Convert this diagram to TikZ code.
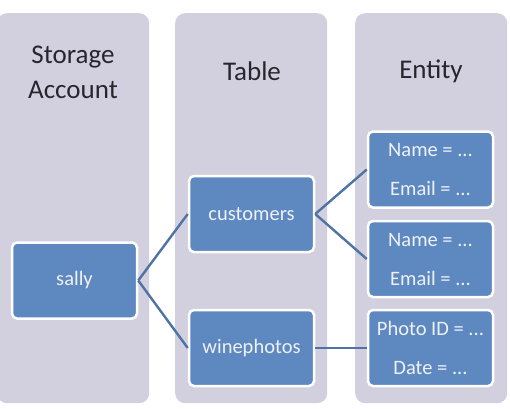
\documentclass[tikz,border=0pt]{standalone}
\usepackage{fontspec}
\setmainfont{Carlito}
\definecolor{colbg}{HTML}{D2D0DF}
\definecolor{boxblue}{HTML}{5E89C0}
\definecolor{linkblue}{HTML}{4F74A4}
\definecolor{titlecol}{HTML}{26262C}
\definecolor{boxtext}{HTML}{EEF1F7}
\tikzset{
  colbox/.style={fill=colbg, rounded corners=10pt, draw=none, minimum width=152pt, minimum height=390pt, inner sep=0pt},
  coltitle/.style={text=titlecol, font=\fontsize{27}{35}\selectfont, align=center, inner sep=0pt},
  itembox/.style={fill=boxblue, draw=white, line width=2.5pt, rounded corners=5pt, minimum width=125pt, minimum height=76pt, inner sep=0pt, text=boxtext, font=\fontsize{20.5}{39}\selectfont, align=center},
  link/.style={draw=linkblue, line width=2.4pt}
}
\begin{document}
\begin{tikzpicture}[x=1pt,y=-1pt]
\useasboundingbox (0,0) rectangle (510,408);
\fill[white] (0,0) rectangle (510,408);
% columns
\node[colbox, anchor=north west] (c1) at (-3,13) {};
\node[colbox, anchor=north west] (c2) at (175,13) {};
\node[colbox, anchor=north west] (c3) at (355,13) {};
% titles
\node[coltitle] (t1) at (73,72) {Storage\\Account};
\node[coltitle] (t2) at (252,71) {Table};
\node[coltitle] (t3) at (431,71) {Entity};
% boxes
\node[itembox] (sally) at (74.5,280.5) {sally};
\node[itembox] (cust) at (251.5,214) {customers};
\node[itembox] (wine) at (251.5,348) {winephotos};
\node[itembox] (e1) at (430.5,169.5) {Name = ...\\Email = ...};
\node[itembox] (e2) at (430.5,259) {Name = ...\\Email = ...};
\node[itembox] (e3) at (430.5,348) {Photo ID = ...\\Date = ...};
% links
\draw[link] (sally.east) -- (cust.west);
\draw[link] (sally.east) -- (wine.west);
\draw[link] (cust.east) -- (e1.west);
\draw[link] (cust.east) -- (e2.west);
\draw[link] (wine.east) -- (e3.west);
\end{tikzpicture}
\end{document}
